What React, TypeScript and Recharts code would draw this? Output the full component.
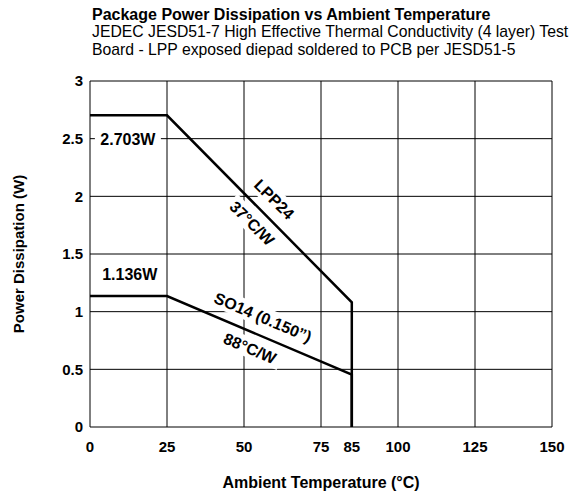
import { LineChart, Line, XAxis, YAxis, CartesianGrid, ReferenceDot, Label } from 'recharts'

// ambient temperature breakpoints (°C)
const temps = [0, 25, 85, 85]
// derating curves (W)
const lpp24 = [2.703, 2.703, 1.081, 0]
const so14 = [1.136, 1.136, 0.454, 0]

const xTicks = [0, 25, 50, 75, 85, 100, 125, 150]
const yTicks = [0, 0.5, 1, 1.5, 2, 2.5, 3]
const gridX = [0, 25, 50, 75, 100, 125, 150]

const lppData = temps.map((t, i) => ({ t, w: lpp24[i] }))
const soData = temps.map((t, i) => ({ t, w: so14[i] }))

const FONT = '"Liberation Sans", Arial, Helvetica, sans-serif'

// text with a white box behind it, so grid lines break around it
function boxedLabel(text: string, angle: number, boxW: number) {
  return (props: any) => {
    const { cx, cy } = props
    if (cx == null || cy == null) return <g />
    return (
      <g transform={`translate(${cx},${cy}) rotate(${angle})`}>
        <rect x={-boxW / 2} y={-10} width={boxW} height={20} fill="#fff" />
        <text
          x={0}
          y={6}
          textAnchor="middle"
          fontFamily={FONT}
          fontWeight="bold"
          fontSize={16}
          fill="#000"
        >
          {text}
        </text>
      </g>
    )
  }
}

export default function App() {
  return (
    <div style={{ position: 'absolute', left: 0, top: 0, width: 580, height: 494, background: '#fff', fontFamily: FONT }}>
      <div style={{ position: 'absolute', left: 92, top: 5.7, fontSize: 16, lineHeight: '17.5px', color: '#000', whiteSpace: 'nowrap' }}>
        <div style={{ fontWeight: 'bold' }}>Package Power Dissipation vs Ambient Temperature</div>
        <div style={{ fontSize: 15.75 }}>JEDEC JESD51-7 High Effective Thermal Conductivity (4 layer) Test</div>
        <div style={{ fontSize: 15.75 }}>Board - LPP exposed diepad soldered to PCB per JESD51-5</div>
      </div>
      <LineChart
        width={580}
        height={494}
        margin={{ top: 81, right: 28, bottom: 0, left: 0 }}
        style={{ position: 'absolute', left: 0, top: 0 }}
      >
        <CartesianGrid
          stroke="#000"
          strokeWidth={1}
          horizontalValues={yTicks}
          verticalValues={gridX}
        />
        <XAxis
          type="number"
          dataKey="t"
          domain={[0, 150]}
          ticks={xTicks}
          interval={0}
          height={67}
          axisLine={false}
          tickLine={false}
          tickSize={0}
          tickMargin={14}
          tick={{ fontSize: 15, fontWeight: 'bold', fill: '#000', fontFamily: FONT }}
        >
          <Label
            content={({ viewBox }: any) => (
              <text
                x={viewBox ? viewBox.x + viewBox.width / 2 : 320}
                y={488}
                textAnchor="middle"
                fontFamily={FONT}
                fontWeight="bold"
                fontSize={16}
                fill="#000"
              >
                Ambient Temperature (°C)
              </text>
            )}
          />
        </XAxis>
        <YAxis
          type="number"
          dataKey="w"
          domain={[0, 3]}
          ticks={yTicks}
          interval={0}
          width={90}
          axisLine={false}
          tickLine={false}
          tickSize={0}
          tickMargin={7}
          tick={{ fontSize: 15, fontWeight: 'bold', fill: '#000', fontFamily: FONT }}
        >
          <Label
            content={({ viewBox }: any) => {
              const cy = viewBox ? viewBox.y + viewBox.height / 2 : 254
              return (
                <text
                  x={24}
                  y={cy}
                  transform={`rotate(-90 24 ${cy})`}
                  textAnchor="middle"
                  fontFamily={FONT}
                  fontWeight="bold"
                  fontSize={15}
                  fill="#000"
                >
                  Power Dissipation (W)
                </text>
              )
            }}
          />
        </YAxis>
        <ReferenceDot x={12.3} y={2.5} r={0} ifOverflow="visible" shape={boxedLabel('2.703W', 0, 66)} />
        <ReferenceDot x={12.9} y={1.33} r={0} ifOverflow="visible" shape={boxedLabel('1.136W', 0, 66)} />
        <ReferenceDot x={59.9} y={1.976} r={0} ifOverflow="visible" shape={boxedLabel('LPP24', 45, 58)} />
        <ReferenceDot x={52.7} y={1.769} r={0} ifOverflow="visible" shape={boxedLabel('37°C/W', 45, 62)} />
        <ReferenceDot x={56.2} y={0.954} r={0} ifOverflow="visible" shape={boxedLabel('SO14 (0.150”)', 23, 108)} />
        <ReferenceDot x={52.0} y={0.685} r={0} ifOverflow="visible" shape={boxedLabel('88°C/W', 23, 66)} />
        <Line
          data={lppData}
          dataKey="w"
          type="linear"
          stroke="#000"
          strokeWidth={2.5}
          dot={false}
          activeDot={false}
          isAnimationActive={false}
        />
        <Line
          data={soData}
          dataKey="w"
          type="linear"
          stroke="#000"
          strokeWidth={2.5}
          dot={false}
          activeDot={false}
          isAnimationActive={false}
        />
      </LineChart>
    </div>
  )
}
